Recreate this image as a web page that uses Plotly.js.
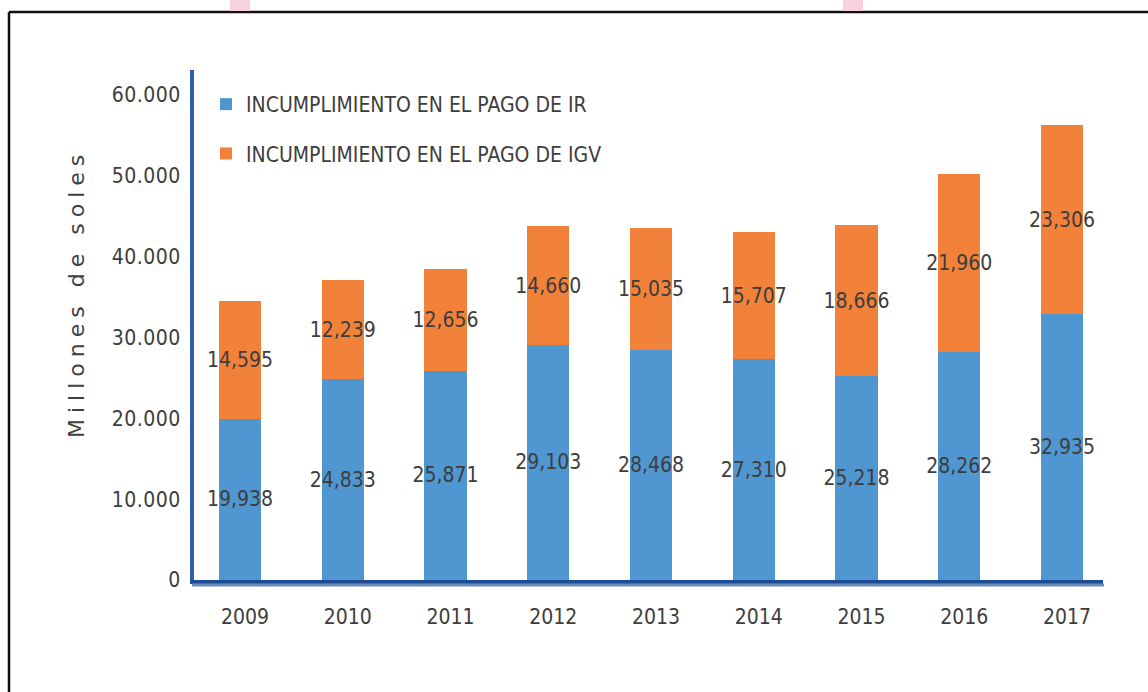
<!DOCTYPE html>
<html>
<head>
<meta charset="utf-8">
<script src="https://cdn.plot.ly/plotly-3.0.1.min.js"></script>
<style>
  html, body { margin: 0; padding: 0; background: #ffffff; }
  #chart { width: 1148px; height: 692px; }
  .ytick text { letter-spacing: 0.5px; }
  .annotation[data-index="0"] text { letter-spacing: 6px; }
</style>
</head>
<body>
<div id="chart"></div>
<script>
// ---- data ----
const years = ['2009', '2010', '2011', '2012', '2013', '2014', '2015', '2016', '2017'];
const irValues  = [19938, 24833, 25871, 29103, 28468, 27310, 25218, 28262, 32935];
const igvValues = [14595, 12239, 12656, 14660, 15035, 15707, 18666, 21960, 23306];
const seriesNames = ['INCUMPLIMIENTO EN EL PAGO DE IR', 'INCUMPLIMIENTO EN EL PAGO DE IGV'];
const yTickValues = [0, 10000, 20000, 30000, 40000, 50000, 60000];
const yTitle = 'Millones de soles';

// ---- layout constants ----
const W = 1148, H = 692;
const ML = 194, MR = 45, MT = 70, MB = 112;
const PW = W - ML - MR, PH = H - MT - MB;
const px = x => (x - ML) / PW;
const py = y => (H - MB - y) / PH;

const narrow = '"Liberation Sans Narrow", "DejaVu Sans Condensed", "Arial Narrow", "Liberation Sans", sans-serif';
const textColor = '#3d3d3d';
const fmt = v => v.toLocaleString('en-US');

const traces = [
  {
    type: 'bar', name: seriesNames[0], x: years, y: irValues,
    marker: { color: '#5097d1' }, legendgroup: 'ir',
    text: irValues.map(fmt), textposition: 'inside', insidetextanchor: 'middle',
    constraintext: 'none', textangle: 0,
    insidetextfont: { family: narrow, size: 21, color: textColor },
    hoverinfo: 'x+y'
  },
  {
    type: 'bar', name: seriesNames[1], x: years, y: igvValues,
    marker: { color: '#f2823a' }, legendgroup: 'igv',
    text: igvValues.map(fmt), textposition: 'inside', insidetextanchor: 'middle',
    constraintext: 'none', textangle: 0,
    insidetextfont: { family: narrow, size: 21, color: textColor },
    hoverinfo: 'x+y'
  }
];

const layout = {
  width: W, height: H,
  margin: { l: ML, r: MR, t: MT, b: MB, pad: 0 },
  paper_bgcolor: '#ffffff', plot_bgcolor: '#ffffff',
  barmode: 'stack', bargap: 0.59,
  separators: ',.',
  showlegend: true,
  legend: {
    x: px(206), y: py(84), xanchor: 'left', yanchor: 'top',
    traceorder: 'grouped', tracegroupgap: 19,
    font: { family: narrow, size: 21, color: textColor },
    bgcolor: 'rgba(0,0,0,0)', itemclick: false
  },
  xaxis: {
    type: 'category', range: [-0.447, 8.398], fixedrange: true,
    showline: true, linecolor: '#1d4d97', linewidth: 4,
    showgrid: false, zeroline: false, ticks: '',
    tickfont: { family: narrow, size: 21, color: textColor },
    ticklabelstandoff: 15, ticklabelshift: 5
  },
  yaxis: {
    range: [0, 63100], fixedrange: true,
    tickvals: yTickValues, tickformat: ',d',
    showline: true, linecolor: '#3061a8', linewidth: 4,
    showgrid: false, zeroline: false, ticks: '',
    tickfont: { family: narrow, size: 21, color: textColor },
    ticklabelstandoff: 5
  },
  annotations: [
    {
      text: yTitle, xref: 'paper', yref: 'paper',
      x: px(76), y: py(294), xanchor: 'center', yanchor: 'middle',
      textangle: -90, showarrow: false,
      font: { family: '"DejaVu Sans", sans-serif', size: 22, color: '#404040' }
    }
  ],
  shapes: [
    // lighter stripe under the category axis
    { type: 'line', xref: 'paper', yref: 'paper', x0: px(192), x1: px(1104), y0: py(585), y1: py(585),
      line: { color: '#6a8bbb', width: 3 }, layer: 'above' },
    // frame of the source picture
    { type: 'line', xref: 'paper', yref: 'paper', x0: px(9), x1: px(1148), y0: py(12), y1: py(12),
      line: { color: '#111111', width: 2.5 } },
    { type: 'line', xref: 'paper', yref: 'paper', x0: px(9), x1: px(9), y0: py(12), y1: py(692),
      line: { color: '#111111', width: 2.5 } },
    // pink fragments at the top edge
    { type: 'rect', xref: 'paper', yref: 'paper', x0: px(230), x1: px(250), y0: py(0), y1: py(11),
      fillcolor: '#f8d1dd', line: { width: 0 } },
    { type: 'rect', xref: 'paper', yref: 'paper', x0: px(843), x1: px(863), y0: py(0), y1: py(11),
      fillcolor: '#f8d1dd', line: { width: 0 } }
  ]
};

Plotly.newPlot('chart', traces, layout, { displayModeBar: false, staticPlot: true });
</script>
</body>
</html>
